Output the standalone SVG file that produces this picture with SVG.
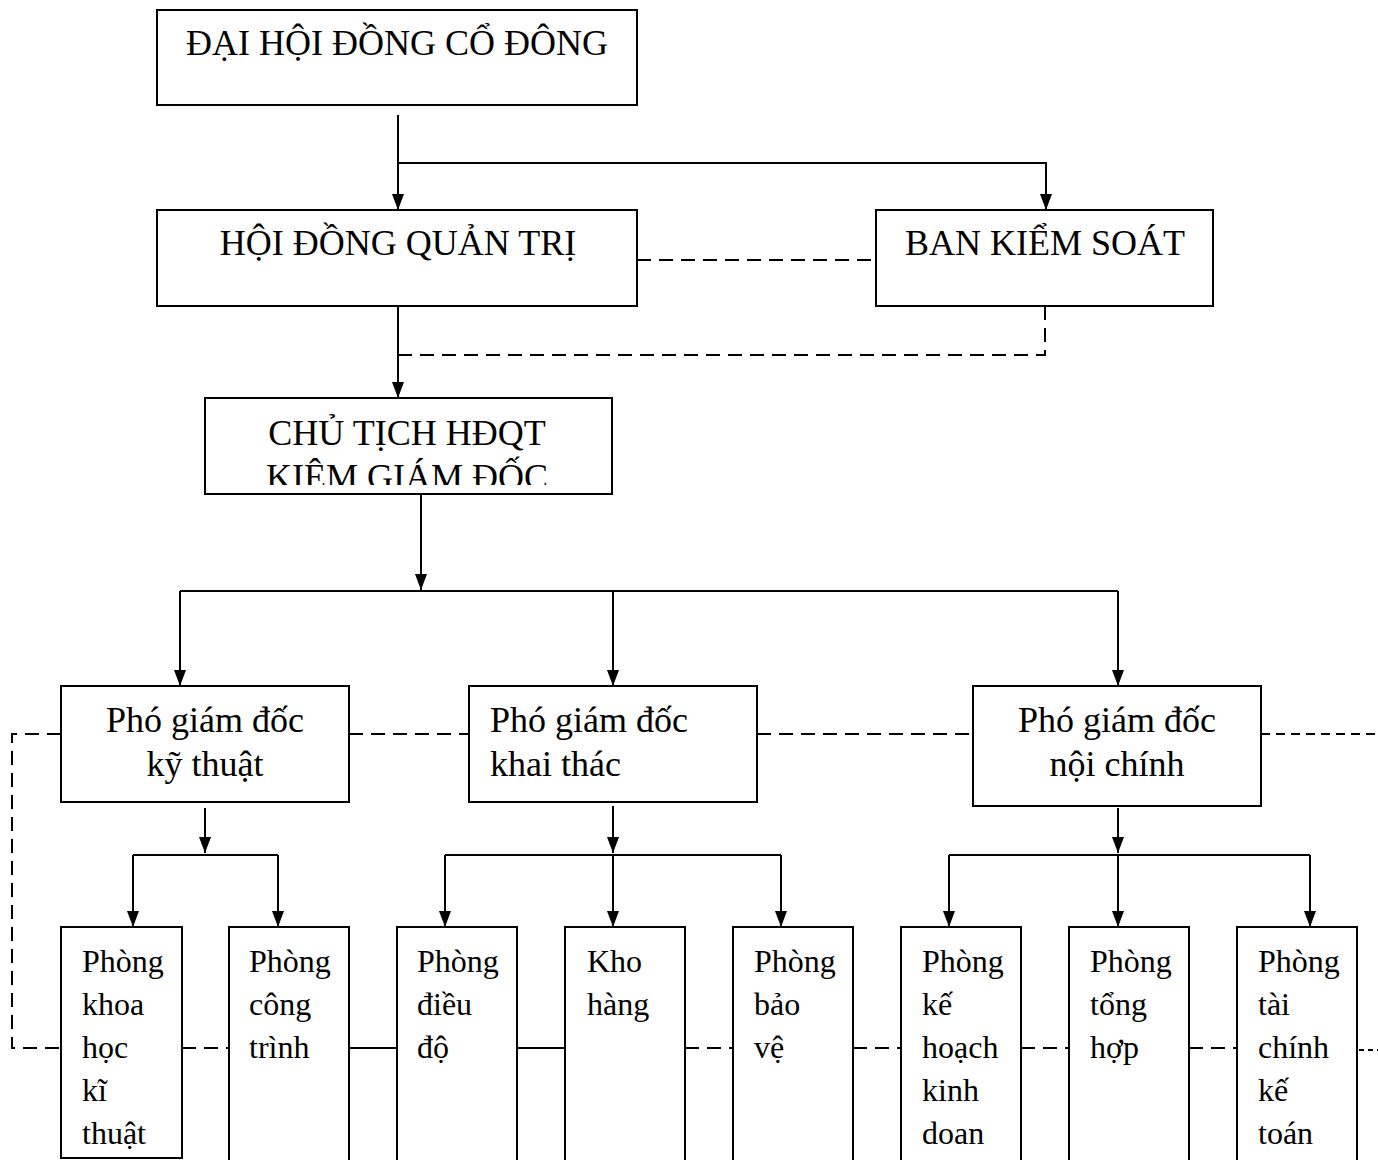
<svg xmlns="http://www.w3.org/2000/svg" width="1378" height="1160" viewBox="0 0 1378 1160">
<style>
.box{fill:#fff;stroke:#000;stroke-width:2}
.ln{fill:none;stroke:#000;stroke-width:2}
.ar{fill:none;stroke:#000;stroke-width:2;marker-end:url(#ah)}
.da{fill:none;stroke:#000;stroke-width:2;stroke-dasharray:14 8}
.t{font-family:"Liberation Serif","Times New Roman",serif;font-size:36px;fill:#000}
.tc{text-anchor:middle}
.s{font-family:"Liberation Serif","Times New Roman",serif;font-size:32px;fill:#000}
</style>
<defs>
<marker id="ah" viewBox="0 0 16 12" markerWidth="16" markerHeight="12" refX="16" refY="6" orient="auto" markerUnits="userSpaceOnUse">
<path d="M0,0 L16,6 L0,12 z" fill="#000"/>
</marker>
<clipPath id="clipCT"><rect x="205" y="398" width="407" height="87"/></clipPath>
</defs>
<g id="connectors">
<path class="ar" d="M398,115 V210"/>
<path class="ar" d="M398,163 H1046 V210"/>
<path class="da" d="M637,260 H876"/>
<path class="da" d="M1045,306 V355 H398"/>
<path class="ar" d="M398,306 V398"/>
<path class="ar" d="M421,494 V590"/>
<path class="ln" d="M180,591 H1118"/>
<path class="ar" d="M180,591 V686"/>
<path class="ar" d="M613,591 V686"/>
<path class="ar" d="M1118,591 V686"/>
<path class="da" d="M61,734 H12 V1048 H61"/>
<path class="da" d="M349,734 H469"/>
<path class="da" d="M757,734 H973"/>
<path class="da" d="M1261,734 H1378" style="stroke-dasharray:9 6"/>
<path class="ar" d="M205,808 V853"/>
<path class="ln" d="M133,855 H278"/>
<path class="ar" d="M133,855 V927"/>
<path class="ar" d="M278,855 V927"/>
<path class="ar" d="M613,806 V853"/>
<path class="ln" d="M445,855 H781"/>
<path class="ar" d="M445,855 V927"/>
<path class="ar" d="M613,855 V927"/>
<path class="ar" d="M781,855 V927"/>
<path class="ar" d="M1118,808 V853"/>
<path class="ln" d="M949,855 H1310"/>
<path class="ar" d="M949,855 V927"/>
<path class="ar" d="M1118,855 V927"/>
<path class="ar" d="M1310,855 V927"/>
<path class="da" d="M182,1048 H229"/>
<path class="ln" d="M349,1048 H397"/>
<path class="ln" d="M517,1048 H565"/>
<path class="da" d="M685,1048 H733"/>
<path class="da" d="M853,1048 H901"/>
<path class="da" d="M1021,1048 H1069"/>
<path class="da" d="M1189,1048 H1237"/>
<path class="da" d="M1359,1050 H1378" style="stroke-dasharray:5 4"/>
</g>
<g id="dhdcd"><rect class="box" x="157" y="10" width="480" height="95"/><text class="t tc" x="397" y="55">ĐẠI HỘI ĐỒNG CỔ ĐÔNG</text></g>
<g id="hdqt"><rect class="box" x="157" y="210" width="480" height="96"/><text class="t tc" x="398" y="255">HỘI ĐỒNG QUẢN TRỊ</text></g>
<g id="bks"><rect class="box" x="876" y="210" width="337" height="96"/><text class="t tc" x="1045" y="255">BAN KIỂM SOÁT</text></g>
<g id="ctgd"><rect class="box" x="205" y="398" width="407" height="96"/><g clip-path="url(#clipCT)"><text class="t tc" x="407" y="445">CHỦ TỊCH HĐQT</text><text class="t tc" x="407" y="489">KIÊM GIÁM ĐỐC</text></g></g>
<g id="pgd-kt"><rect class="box" x="61" y="686" width="288" height="116"/><text class="t tc" x="205" y="732">Phó giám đốc</text><text class="t tc" x="205" y="776">kỹ thuật</text></g>
<g id="pgd-khai"><rect class="box" x="469" y="686" width="288" height="116"/><text class="t" x="490" y="732">Phó giám đốc</text><text class="t" x="490" y="776">khai thác</text></g>
<g id="pgd-nc"><rect class="box" x="973" y="686" width="288" height="120"/><text class="t tc" x="1117" y="732">Phó giám đốc</text><text class="t tc" x="1117" y="776">nội chính</text></g>
<g id="p-khkt"><rect class="box" x="61" y="927" width="121" height="231"/><text class="s" x="82" y="972">Phòng</text><text class="s" x="82" y="1015">khoa</text><text class="s" x="82" y="1058">học</text><text class="s" x="82" y="1101">kĩ</text><text class="s" x="82" y="1144">thuật</text></g>
<g id="p-ct"><rect class="box" x="229" y="927" width="120" height="250"/><text class="s" x="249" y="972">Phòng</text><text class="s" x="249" y="1015">công</text><text class="s" x="249" y="1058">trình</text></g>
<g id="p-dd"><rect class="box" x="397" y="927" width="120" height="250"/><text class="s" x="417" y="972">Phòng</text><text class="s" x="417" y="1015">điều</text><text class="s" x="417" y="1058">độ</text></g>
<g id="p-kho"><rect class="box" x="565" y="927" width="120" height="250"/><text class="s" x="587" y="972">Kho</text><text class="s" x="587" y="1015">hàng</text></g>
<g id="p-bv"><rect class="box" x="733" y="927" width="120" height="250"/><text class="s" x="754" y="972">Phòng</text><text class="s" x="754" y="1015">bảo</text><text class="s" x="754" y="1058">vệ</text></g>
<g id="p-khkd"><rect class="box" x="901" y="927" width="120" height="250"/><text class="s" x="922" y="972">Phòng</text><text class="s" x="922" y="1015">kế</text><text class="s" x="922" y="1058">hoạch</text><text class="s" x="922" y="1101">kinh</text><text class="s" x="922" y="1144">doan</text></g>
<g id="p-th"><rect class="box" x="1069" y="927" width="120" height="250"/><text class="s" x="1090" y="972">Phòng</text><text class="s" x="1090" y="1015">tổng</text><text class="s" x="1090" y="1058">hợp</text></g>
<g id="p-tckt"><rect class="box" x="1237" y="927" width="120" height="250"/><text class="s" x="1258" y="972">Phòng</text><text class="s" x="1258" y="1015">tài</text><text class="s" x="1258" y="1058">chính</text><text class="s" x="1258" y="1101">kế</text><text class="s" x="1258" y="1144">toán</text></g>
</svg>
